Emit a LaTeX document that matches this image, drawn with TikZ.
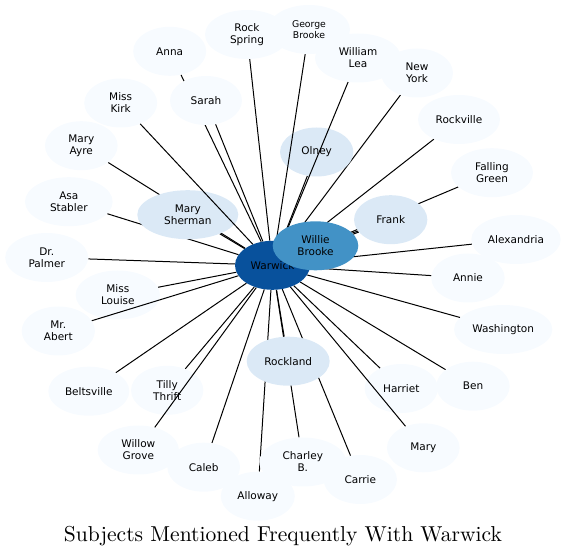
\documentclass[tikz,border=0pt]{standalone}
\usepackage{fontspec}
\usetikzlibrary{shapes.geometric}
\newfontfamily\nodefont{DejaVu Sans}
\definecolor{leafc}{HTML}{F7FBFF}
\definecolor{midc}{HTML}{DBE9F6}
\definecolor{wbc}{HTML}{4292C6}
\definecolor{warc}{HTML}{08519C}
\pgfdeclarelayer{edgelayer}
\pgfdeclarelayer{overlayer}
\pgfdeclarelayer{toplayer}
\pgfsetlayers{edgelayer,main,overlayer,toplayer}
\tikzset{
  base/.style={ellipse, inner sep=0pt, minimum height=49pt, align=center, text=black,
    font=\nodefont\fontsize{10.5}{12}\selectfont},
  leaf/.style={base, fill=leafc},
  midn/.style={base, fill=midc},
  edge/.style={draw=black, line width=1pt}
}
\begin{document}
\begin{tikzpicture}[x=1pt,y=-1pt]
\useasboundingbox (0,0) rectangle (566,556);
% central nodes
\node[base, fill=warc, minimum width=75pt] (w) at (272.5,265.3) {Warwick};
\begin{pgfonlayer}{toplayer}
\node[base, fill=wbc, minimum width=85.6pt] (wb) at (315.5,245.8) {Willie\\Brooke};
\end{pgfonlayer}
\node[midn, minimum width=101pt] (msh) at (187.8,214.7) {Mary\\Sherman};
\node[midn, minimum width=73.3pt] (olney) at (316.7,152) {Olney};
\node[midn, minimum width=73.3pt] (frank) at (390.7,219.7) {Frank};
\node[midn, minimum width=83pt] (rockland) at (288.2,361.2) {Rockland};
% outer nodes
\node[leaf, minimum width=73pt] (anna) at (169.7,51.3) {Anna};
\node[leaf, minimum width=84pt] (rocksp) at (247,34.5) {Rock\\Spring};
\node[leaf, minimum width=82pt, font=\nodefont\fontsize{9.3}{10.5}\selectfont] (gbrooke) at (309,29.5) {George\\Brooke};
\node[leaf, minimum width=86pt] (wlea) at (358,58) {William\\Lea};
\node[leaf, minimum width=72pt] (newyork) at (417,73) {New\\York};
\node[leaf, minimum width=82pt] (rockville) at (459,119.5) {Rockville};
\node[leaf, minimum width=82pt] (fgreen) at (492,172.7) {Falling\\Green};
\node[leaf, minimum width=89.4pt] (alex) at (516,239.5) {Alexandria};
\node[leaf, minimum width=73.4pt] (annie) at (468,278) {Annie};
\node[leaf, minimum width=98.3pt] (wash) at (503.2,329.5) {Washington};
\node[leaf, minimum width=73.4pt] (ben) at (473,386.2) {Ben};
\node[leaf, minimum width=73.3pt] (harriet) at (401.3,388.5) {Harriet};
\node[leaf, minimum width=72.7pt] (mary) at (423.3,447.8) {Mary};
\node[leaf, minimum width=73.3pt] (carrie) at (360.3,479.5) {Carrie};
\node[leaf, minimum width=87pt] (charley) at (302.8,462) {Charley\\B.};
\node[leaf, minimum width=74pt] (alloway) at (257.8,496.2) {Alloway};
\node[leaf, minimum width=72.7pt] (caleb) at (203.7,467.2) {Caleb};
\node[leaf, minimum width=81.3pt] (wgrove) at (138.3,450) {Willow\\Grove};
\node[leaf, minimum width=72.3pt] (tilly) at (167.2,390.3) {Tilly\\Thrift};
\node[leaf, minimum width=81pt] (belts) at (88.8,391.2) {Beltsville};
\node[leaf, minimum width=73.3pt] (abert) at (58.3,331) {Mr.\\Abert};
\node[leaf, minimum width=84.3pt] (louise) at (117.8,295) {Miss\\Louise};
\node[leaf, minimum width=83pt] (palmer) at (46.7,257.5) {Dr.\\Palmer};
\node[leaf, minimum width=87.7pt] (asa) at (68.8,201.7) {Asa\\Stabler};
\node[leaf, minimum width=72.7pt] (mayre) at (81.3,145.7) {Mary\\Ayre};
\node[leaf, minimum width=73pt] (kirk) at (120.7,103) {Miss\\Kirk};
\node[leaf, minimum width=72pt] (sarah) at (206,100.5) {Sarah};
% title
\node[anchor=base] (title) at (283,541) {\resizebox{438pt}{!}{Subjects Mentioned Frequently With Warwick}};
% edges under the nodes
\begin{pgfonlayer}{edgelayer}
\foreach \n in {msh,olney,frank,rockland,anna,rocksp,newyork,rockville,fgreen,alex,annie,wash,ben,harriet,carrie,charley,alloway,caleb,tilly,belts,louise,palmer,asa,mayre,sarah}
  \draw[edge] (w) -- (\n);
\draw[edge] (wb) -- (frank);
\end{pgfonlayer}
% edges drawn over some nodes
\begin{pgfonlayer}{overlayer}
\foreach \n in {kirk,gbrooke,wlea,wgrove,abert,mary}
  \draw[edge] (w) -- (\n);
\end{pgfonlayer}
\end{tikzpicture}
\end{document}
